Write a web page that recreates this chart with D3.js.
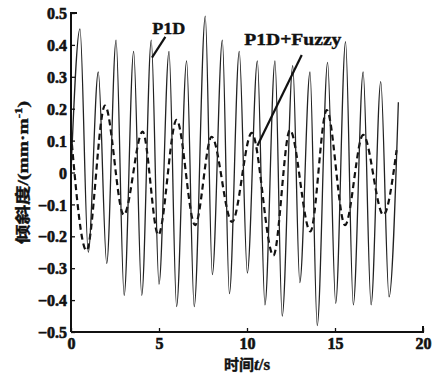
<!DOCTYPE html>
<html>
<head>
<meta charset="utf-8">
<script src="https://cdn.jsdelivr.net/npm/d3@7"></script>
<style>
  body { margin: 0; background: #fff; }
  svg text { font-family: 'Liberation Serif', 'Times New Roman', serif; font-weight: bold; fill: #111; }
</style>
</head>
<body>
<svg id="chart"></svg>
<script>
// PID response (solid): extrema
const pidT = [0, 0.51, 0.98, 1.55, 2.03, 2.56, 3.02, 3.56, 4.02, 4.56, 5.0, 5.57, 6.0, 6.57, 7.0, 7.63, 8.03, 8.6, 9.0, 9.56,
    10.02, 10.59, 11.02, 11.59, 12.0, 12.6, 13.0, 13.58, 13.99, 14.58, 15.04, 15.6, 16.04, 16.6, 17.05, 17.6, 18.07, 18.6];
const pidV = [0.0, 0.45, -0.25, 0.315, -0.285, 0.415, -0.385, 0.38, -0.385, 0.415, -0.35, 0.38, -0.42, 0.35, -0.42, 0.49, -0.32, 0.415, -0.38, 0.38,
    -0.315, 0.35, -0.415, 0.35, -0.45, 0.335, -0.345, 0.315, -0.48, 0.345, -0.41, 0.41, -0.415, 0.315, -0.415, 0.285, -0.39, 0.22];

// PID+Fuzzy response (dashed)
const fuzzyT = [0, 0.88, 1.93, 3.0, 4.07, 4.96, 6.0, 7.05, 7.99, 9.15, 10.27, 11.5, 12.44, 13.6, 14.53, 15.57, 16.6, 17.75, 18.5];
const fuzzyV = [0.12, -0.245, 0.21, -0.133, 0.128, -0.196, 0.165, -0.165, 0.112, -0.155, 0.124, -0.26, 0.133, -0.185, 0.196, -0.165, 0.118, -0.133, 0.07];

const xTicks = [0, 5, 10, 15, 20];
const yTicks = [0.5, 0.4, 0.3, 0.2, 0.1, 0, -0.1, -0.2, -0.3, -0.4, -0.5];

// annotations: label anchor and leader line in data units
const labels = [
    { text: 'P1D', x: 4.62, y: 0.435, len: 33, line: [[5.36, 0.425], [4.6, 0.36]] },
    { text: 'P1D+Fuzzy', x: 9.85, y: 0.4, len: 97, line: [[13.11, 0.368], [10.59, 0.084]] }
];

const width = 440, height = 373;
const margin = { top: 13, right: 17, bottom: 41, left: 71 };

const svg = d3.select('#chart')
    .attr('width', width)
    .attr('height', height);

const x = d3.scaleLinear().domain([0, 20]).range([margin.left, width - margin.right]);
const y = d3.scaleLinear().domain([-0.5, 0.5]).range([height - margin.bottom, margin.top]);

// curves
const line = d3.line()
    .x(d => x(d[0]))
    .y(d => y(d[1]))
    .curve(d3.curveMonotoneX);

svg.append('path')
    .datum(d3.zip(fuzzyT, fuzzyV))
    .attr('d', line)
    .attr('fill', 'none')
    .attr('stroke', '#111')
    .attr('stroke-width', 2.2)
    .attr('stroke-dasharray', '6,4');

svg.append('path')
    .datum(d3.zip(pidT, pidV))
    .attr('d', line)
    .attr('fill', 'none')
    .attr('stroke', '#222')
    .attr('stroke-width', 1.3);

const tickStyle = sel => sel
    .style('font-family', "'Liberation Serif', serif")
    .style('font-weight', 'bold')
    .style('font-size', '16px')
    .style('fill', '#111')
    .style('stroke', '#111')
    .style('stroke-width', '0.6px');

// axes
const xAxis = svg.append('g')
    .attr('transform', `translate(0,${y(-0.5)})`)
    .call(d3.axisBottom(x).tickValues(xTicks).tickSize(-4).tickPadding(6).tickFormat(d3.format('d')));
xAxis.select('.domain').attr('stroke', '#111').attr('stroke-width', 2).attr('d', `M${x(0)},0H${x(20)}V-6`);
xAxis.selectAll('.tick line').attr('stroke', '#111').attr('stroke-width', 1.3);
xAxis.selectAll('.tick text').call(tickStyle);

const yAxis = svg.append('g')
    .attr('transform', `translate(${x(0)},0)`)
    .call(d3.axisLeft(y).tickValues(yTicks).tickSize(-4).tickPadding(4).tickFormat(d => d === 0 ? '0' : d3.format('.1f')(d)));
yAxis.select('.domain').attr('stroke', '#111').attr('stroke-width', 2).attr('d', `M6,${y(0.5)}H0V${y(-0.5)}`);
yAxis.selectAll('.tick line').attr('stroke', '#111').attr('stroke-width', 1.3);
yAxis.selectAll('.tick text').call(tickStyle).attr('dy', '0.35em');

// axis titles
svg.append('text')
    .attr('transform', `translate(28,${y(0)}) rotate(-90)`)
    .attr('text-anchor', 'middle')
    .attr('textLength', 143)
    .attr('lengthAdjust', 'spacingAndGlyphs')
    .style('font-size', '15px')
    .style('stroke', '#111')
    .style('stroke-width', '0.4px')
    .html('<tspan style="font-family:\'Noto Sans CJK SC\'">倾斜度</tspan>/(mm·m<tspan dy="-6" style="font-size:10px">-1</tspan><tspan dy="6">)</tspan>');

svg.append('text')
    .attr('x', x(10))
    .attr('y', 370)
    .attr('text-anchor', 'middle')
    .style('font-size', '17px')
    .style('stroke', '#111')
    .style('stroke-width', '0.4px')
    .html('<tspan style="font-family:\'Noto Sans CJK SC\';font-size:15px">时间</tspan><tspan style="font-style:italic">t</tspan>/s');

// annotations
labels.forEach(l => {
    svg.append('text')
        .attr('x', x(l.x))
        .attr('y', y(l.y))
        .attr('textLength', l.len)
        .attr('lengthAdjust', 'spacingAndGlyphs')
        .style('font-size', '16px')
        .style('stroke', '#111')
        .style('stroke-width', '0.4px')
        .text(l.text);
    svg.append('line')
        .attr('x1', x(l.line[0][0]))
        .attr('y1', y(l.line[0][1]))
        .attr('x2', x(l.line[1][0]))
        .attr('y2', y(l.line[1][1]))
        .attr('stroke', '#111')
        .attr('stroke-width', 2.2);
});
</script>
</body>
</html>
